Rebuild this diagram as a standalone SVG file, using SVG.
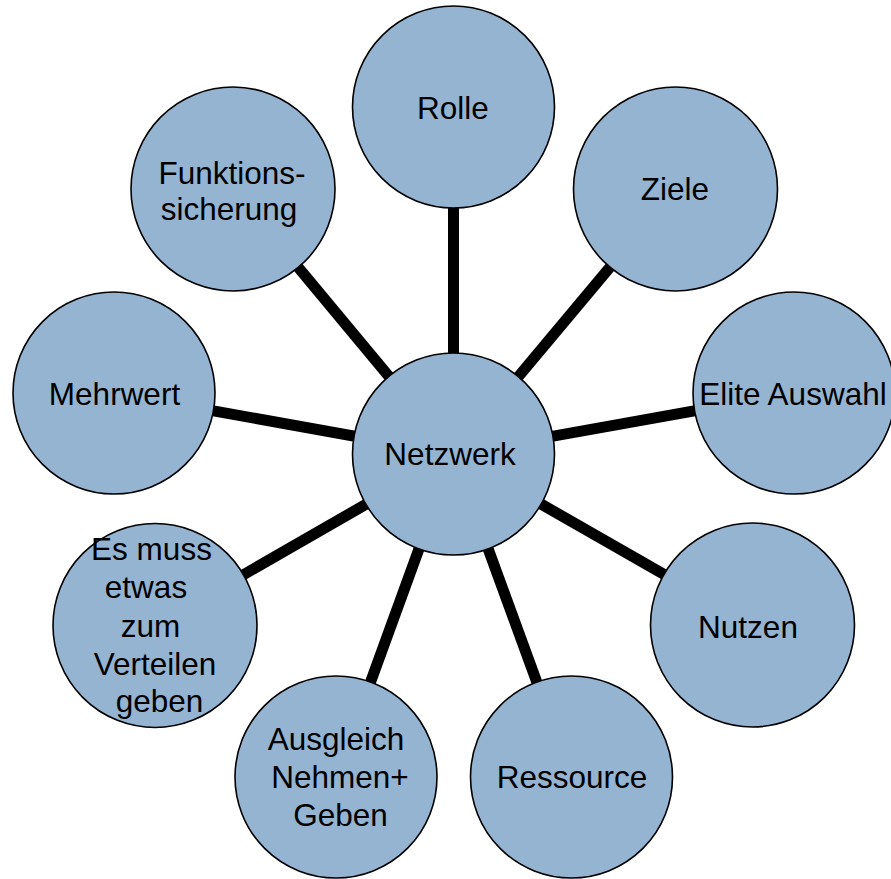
<svg xmlns="http://www.w3.org/2000/svg" width="891" height="879" viewBox="0 0 891 879">
<style>
.node circle{fill:#95B4D1;stroke:#000;stroke-width:1.6}
.node text{font-family:"Liberation Sans",Arial,sans-serif;font-size:31.5px;fill:#000;text-anchor:middle}
.edges line{stroke:#000;stroke-width:11}
</style>
<rect width="891" height="879" fill="#fff"/>
<g class="edges" id="connectors">
<line x1="453.5" y1="454" x2="453.5" y2="107"/>
<line x1="453.5" y1="454" x2="675.5" y2="189"/>
<line x1="453.5" y1="454" x2="794" y2="393"/>
<line x1="453.5" y1="454" x2="752.5" y2="625"/>
<line x1="453.5" y1="454" x2="571.5" y2="777"/>
<line x1="453.5" y1="454" x2="336" y2="777"/>
<line x1="453.5" y1="454" x2="155" y2="625.5"/>
<line x1="453.5" y1="454" x2="114" y2="393"/>
<line x1="453.5" y1="454" x2="233" y2="189"/>
</g>
<g class="node" id="netzwerk"><circle cx="453.5" cy="454" r="101"/><text x="450" y="465">Netzwerk</text></g>
<g class="node" id="rolle"><circle cx="453.5" cy="107" r="101"/><text x="453" y="119">Rolle</text></g>
<g class="node" id="ziele"><circle cx="675.5" cy="189" r="102"/><text x="675" y="200">Ziele</text></g>
<g class="node" id="elite"><circle cx="794" cy="393" r="101"/><text x="793" y="405">Elite Auswahl</text></g>
<g class="node" id="nutzen"><circle cx="752.5" cy="625" r="102"/><text x="748" y="638">Nutzen</text></g>
<g class="node" id="ressource"><circle cx="571.5" cy="777" r="101"/><text x="572" y="788">Ressource</text></g>
<g class="node" id="ausgleich"><circle cx="336" cy="777" r="101"/><text x="336" y="750">Ausgleich</text><text x="340" y="788">Nehmen+</text><text x="340.5" y="826">Geben</text></g>
<g class="node" id="esmuss"><circle cx="155" cy="625.5" r="102"/><text x="151.5" y="560">Es muss</text><text x="146" y="598">etwas</text><text x="150.5" y="637">zum</text><text x="155" y="675">Verteilen</text><text x="159.5" y="712">geben</text></g>
<g class="node" id="mehrwert"><circle cx="114" cy="393" r="101"/><text x="114.5" y="405">Mehrwert</text></g>
<g class="node" id="funktion"><circle cx="233" cy="189" r="102"/><text x="232" y="184">Funktions-</text><text x="229" y="220">sicherung</text></g>
</svg>
